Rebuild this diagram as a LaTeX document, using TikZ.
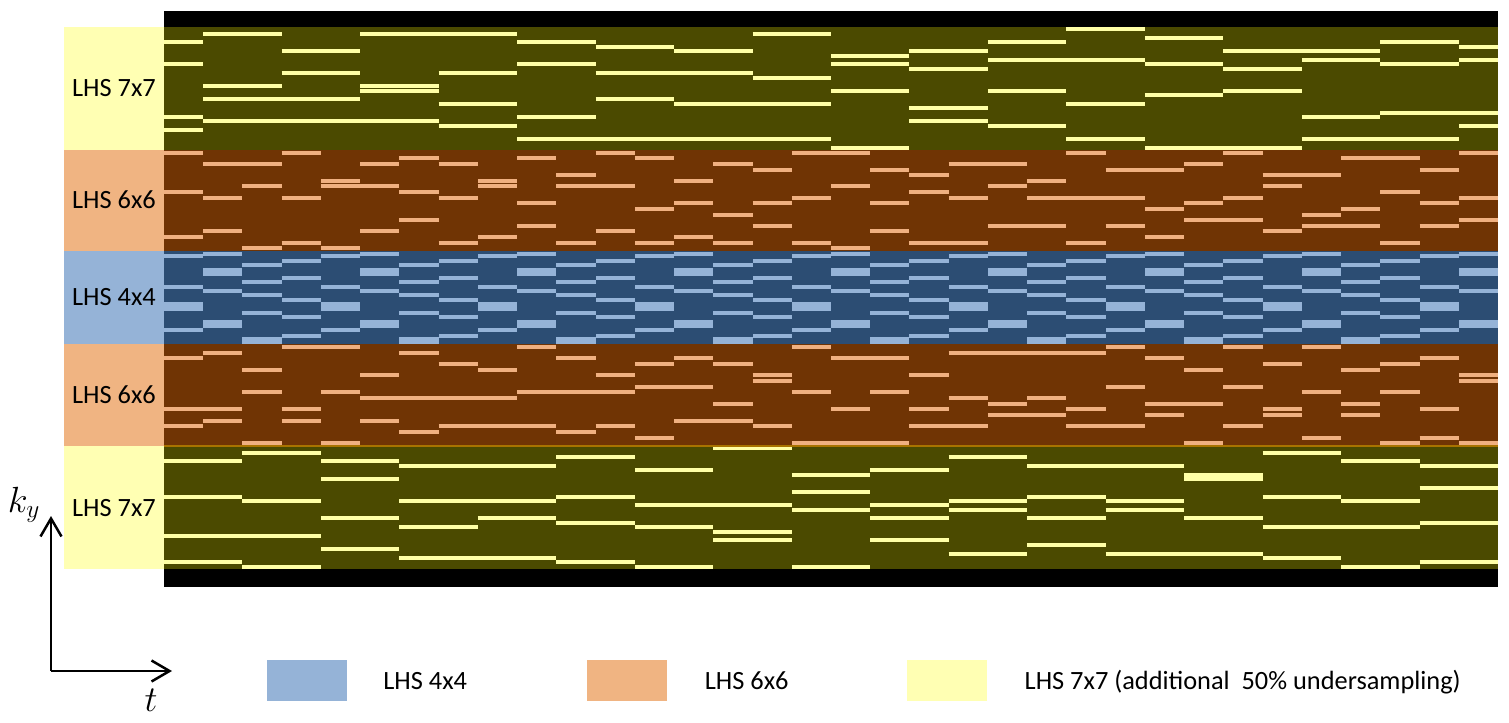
\documentclass[tikz,border=0pt]{standalone}
\usepackage{fontspec}
\setmainfont{Carlito}
\usepackage{amsmath}
\usepackage{xcolor}
\usepackage{tikz}
\usetikzlibrary{arrows.meta,positioning}

\definecolor{olivebg}{HTML}{4B4A00}
\definecolor{brownbg}{HTML}{703404}
\definecolor{navybg}{HTML}{2C4D73}
\definecolor{lhsyellow}{HTML}{FFFFB3}
\definecolor{lhsorange}{HTML}{F0B482}
\definecolor{lhsblue}{HTML}{95B3D7}
\definecolor{yline}{HTML}{FFFFA6}
\definecolor{oline}{HTML}{F0B080}
\definecolor{sepline}{HTML}{A87300}

\newcommand{\fw}{39.2353}
\newcommand{\blueA}{4.7/4,35.7/4,55.2/9,79/4}
\newcommand{\blueB}{2.6/4,20.7/8,39.7/4,73.2/8}
\newcommand{\blueC}{14/4,31.3/4,44/4,61.7/4,89/7}
\newcommand{\blueD}{9.7/4,26.7/4,49/4,66.3/4,84.7/4}

\begin{document}
\begin{tikzpicture}[
  x=0.02cm, y=-0.02cm,
  lbl/.style={rectangle, inner sep=0pt, minimum width=2cm, text height=0.34cm, text depth=0pt, font=\fontsize{15}{18}\selectfont},
  keybox/.style={rectangle, inner sep=0pt, minimum width=1.6cm, minimum height=0.84cm},
  keytxt/.style={inner sep=0pt, text height=0.34cm, text depth=0pt, font=\fontsize{15}{18}\selectfont},
  axis/.style={line width=0.05cm, -{Straight Barb[length=3.6mm, width=4.2mm]}},
  axlab/.style={inner sep=0pt, font=\fontsize{20}{24}\selectfont},
  samp/.style={line width=0.08cm}
]
\useasboundingbox (0,0) rectangle (1509,723);
\pgfmathsetseed{11}

\fill[black] (164,11) rectangle (1498,27);
\fill[olivebg] (164,27) rectangle (1498,150);
\fill[brownbg] (164,150) rectangle (1498,251);
\fill[navybg] (164,251) rectangle (1498,344);
\fill[brownbg] (164,344) rectangle (1498,446);
\fill[olivebg] (164,446) rectangle (1498,569);
\fill[black] (164,569) rectangle (1498,587);

\foreach \s in {0,...,17}{
  \pgfmathsetmacro\xa{max(164,164+(2*\s-1)*\fw)}
  \pgfmathsetmacro\xb{min(1498,164+(2*\s+1)*\fw)}
  \foreach \b in {0,...,3}{
    \pgfmathsetmacro\yy{27+(7*\b+random(0,6)+0.5)*123/28}
    \draw[samp, yline] (\xa,\yy) -- (\xb,\yy);
  }
}
\foreach \f in {0,...,33}{
  \pgfmathsetmacro\xa{164+\f*\fw}
  \pgfmathsetmacro\xb{164+(\f+1)*\fw}
  \foreach \b in {0,...,2}{
    \pgfmathsetmacro\yy{150+(6*\b+random(0,5)+0.5)*101/18}
    \draw[samp, oline] (\xa,\yy) -- (\xb,\yy);
    \pgfmathsetmacro\yy{344+(6*\b+random(0,5)+0.5)*102/18}
    \draw[samp, oline] (\xa,\yy) -- (\xb,\yy);
  }
}
\foreach \f in {0,...,33}{
  \pgfmathtruncatemacro\ph{mod(\f,4)}
  \ifcase\ph\let\pat\blueA\or\let\pat\blueB\or\let\pat\blueC\else\let\pat\blueD\fi
  \foreach \yy/\th in \pat
    \fill[lhsblue] ({164+\f*\fw},{251+\yy-\th/2}) rectangle ({164+(\f+1)*\fw},{251+\yy+\th/2});
}
\foreach \s in {0,...,16}{
  \pgfmathsetmacro\xa{164+2*\s*\fw}
  \pgfmathsetmacro\xb{164+(2*\s+2)*\fw}
  \foreach \b in {0,...,3}{
    \pgfmathsetmacro\yy{446+(7*\b+random(0,6)+0.5)*123/28}
    \draw[samp, yline] (\xa,\yy) -- (\xb,\yy);
  }
}
\draw[line width=0.03cm, sepline] (164,446) -- (1498,446);

\node[lbl, fill=lhsyellow, minimum height=2.46cm] (top7) at (114,88.5) {LHS 7x7};
\node[lbl, fill=lhsorange, minimum height=2.02cm] (top6) at (114,200.5) {LHS 6x6};
\node[lbl, fill=lhsblue, minimum height=1.86cm] (mid4) at (114,297.5) {LHS 4x4};
\node[lbl, fill=lhsorange, minimum height=2.04cm] (bot6) at (114,395) {LHS 6x6};
\node[lbl, fill=lhsyellow, minimum height=2.46cm] (bot7) at (114,507.5) {LHS 7x7};

\coordinate (origin) at (51,671);
\coordinate (kytip) at (51,516);
\coordinate (ttip) at (172,671);
\draw[axis] (origin) -- (kytip);
\draw[axis] (origin) -- (ttip);
\node[axlab] (kylab) at (24,505) {$k_y$};
\node[axlab] (tlab) at (151,700) {$t$};

\node[keybox, fill=lhsblue] (key4) at (306.7,680.5) {};
\node[keytxt, right=0.72cm of key4] (txt4) {LHS 4x4};
\node[keybox, fill=lhsorange] (key6) at (626.7,680.5) {};
\node[keytxt, right=0.75cm of key6] (txt6) {LHS 6x6};
\node[keybox, fill=lhsyellow] (key7) at (947,680.5) {};
\node[keytxt, right=0.74cm of key7] (txt7) {LHS 7x7 (additional~~50\% undersampling)};
\end{tikzpicture}
\end{document}
